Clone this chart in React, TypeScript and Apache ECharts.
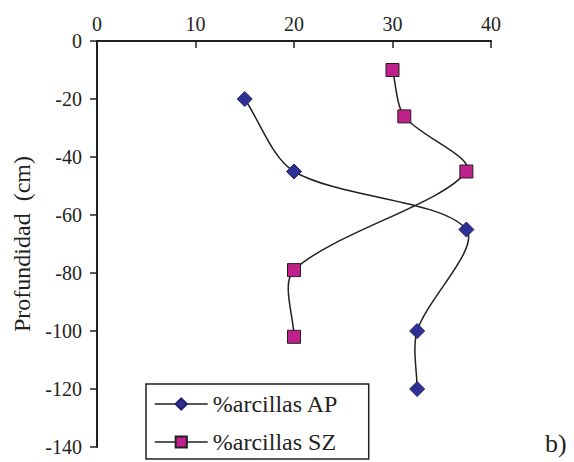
import React, { useEffect, useRef } from "react";
import * as echarts from "echarts";

const apX = [15, 20, 37.5, 32.5, 32.5];
const apDepth = [-20, -45, -65, -100, -120];
const szX = [30, 31.2, 37.5, 20, 20];
const szDepth = [-10, -26, -45, -79, -102];
const seriesNames = ["%arcillas AP", "%arcillas SZ"];
const yAxisTitle = "Profundidad  (cm)";
const panelLabel = "b)";

const FONT = "Liberation Serif";
const INK = "#231f20";

function curveSeries(xs: number[], ys: number[]) {
  return {
    type: "custom",
    silent: true,
    z: 1,
    data: xs.map((x, i) => [x, ys[i], i]),
    encode: { x: 0, y: 1 },
    renderItem: (params: any, api: any) => {
      const i = api.value(2);
      if (i >= xs.length - 1) return null;
      const pt = (k: number) => {
        const kk = Math.max(0, Math.min(xs.length - 1, k));
        return api.coord([xs[kk], ys[kk]]);
      };
      const p0 = pt(i - 1), p1 = pt(i), p2 = pt(i + 1), p3 = pt(i + 2);
      const dist = (a: number[], b: number[]) => Math.hypot(a[0] - b[0], a[1] - b[1]);
      const d01 = dist(p0, p1), d12 = dist(p1, p2), d23 = dist(p2, p3);
      const s = 0.3;
      const f1 = (s * d12) / (d01 + d12);
      const f2 = (s * d12) / (d12 + d23);
      return {
        type: "bezierCurve",
        shape: {
          x1: p1[0], y1: p1[1],
          x2: p2[0], y2: p2[1],
          cpx1: p1[0] + (p2[0] - p0[0]) * f1,
          cpy1: p1[1] + (p2[1] - p0[1]) * f1,
          cpx2: p2[0] - (p3[0] - p1[0]) * f2,
          cpy2: p2[1] - (p3[1] - p1[1]) * f2,
        },
        style: { stroke: INK, lineWidth: 1.5, fill: "none" },
      };
    },
  };
}

export default function App() {
  const ref = useRef<HTMLDivElement>(null);
  useEffect(() => {
    const chart = echarts.init(ref.current!, null, { renderer: "svg" });
    chart.setOption({
      animation: false,
      backgroundColor: "#ffffff",
      textStyle: { fontFamily: FONT },
      grid: { left: 97, top: 41, right: 83, bottom: 15, containLabel: false },
      xAxis: {
        type: "value",
        position: "top",
        min: 0,
        max: 40,
        interval: 10,
        axisLine: { show: true, onZero: false, lineStyle: { color: INK, width: 2 } },
        axisTick: { show: true, inside: true, length: 7, lineStyle: { color: INK, width: 1.5 } },
        axisLabel: { color: INK, fontSize: 20, fontFamily: FONT, margin: 7 },
        splitLine: { show: false },
      },
      yAxis: {
        type: "value",
        min: -140,
        max: 0,
        interval: 20,
        name: yAxisTitle,
        nameLocation: "middle",
        nameRotate: 90,
        nameGap: 62,
        nameTextStyle: { color: INK, fontSize: 24, fontFamily: FONT },
        axisLine: { show: true, onZero: false, lineStyle: { color: INK, width: 2 } },
        axisTick: { show: true, inside: false, length: 7, lineStyle: { color: INK, width: 1.5 } },
        axisLabel: { color: INK, fontSize: 20, fontFamily: FONT, margin: 15 },
        splitLine: { show: false },
      },
      legend: {
        orient: "vertical",
        left: 146,
        top: 384,
        itemWidth: 53,
        itemHeight: 14,
        itemGap: 14,
        padding: [8, 30, 5, 8],
        borderColor: INK,
        borderWidth: 1.5,
        backgroundColor: "#ffffff",
        textStyle: { color: INK, fontSize: 24, fontFamily: FONT },
        lineStyle: { color: INK, width: 1.5, opacity: 1 },
        data: seriesNames,
      },
      series: [
        curveSeries(apX, apDepth),
        curveSeries(szX, szDepth),
        {
          name: seriesNames[0],
          type: "line",
          z: 3,
          data: apX.map((x, i) => [x, apDepth[i]]),
          symbol: "diamond",
          symbolSize: [15, 15],
          lineStyle: { color: INK, width: 1.5, opacity: 0 },
          itemStyle: { color: "#2e3192", borderColor: "#1f2270", borderWidth: 1 },
        },
        {
          name: seriesNames[1],
          type: "line",
          z: 3,
          data: szX.map((x, i) => [x, szDepth[i]]),
          symbol: "rect",
          symbolSize: [13, 13],
          lineStyle: { color: INK, width: 1.5, opacity: 0 },
          itemStyle: { color: "#c0208b", borderColor: INK, borderWidth: 1 },
        },
      ],
      graphic: [
        {
          type: "text",
          left: 545,
          top: 430,
          style: { text: panelLabel, fill: INK, fontSize: 26, fontFamily: FONT },
        },
      ],
    });
    return () => chart.dispose();
  }, []);
  return <div ref={ref} style={{ width: 574, height: 462, position: "absolute", left: 0, top: 0 }} />;
}
